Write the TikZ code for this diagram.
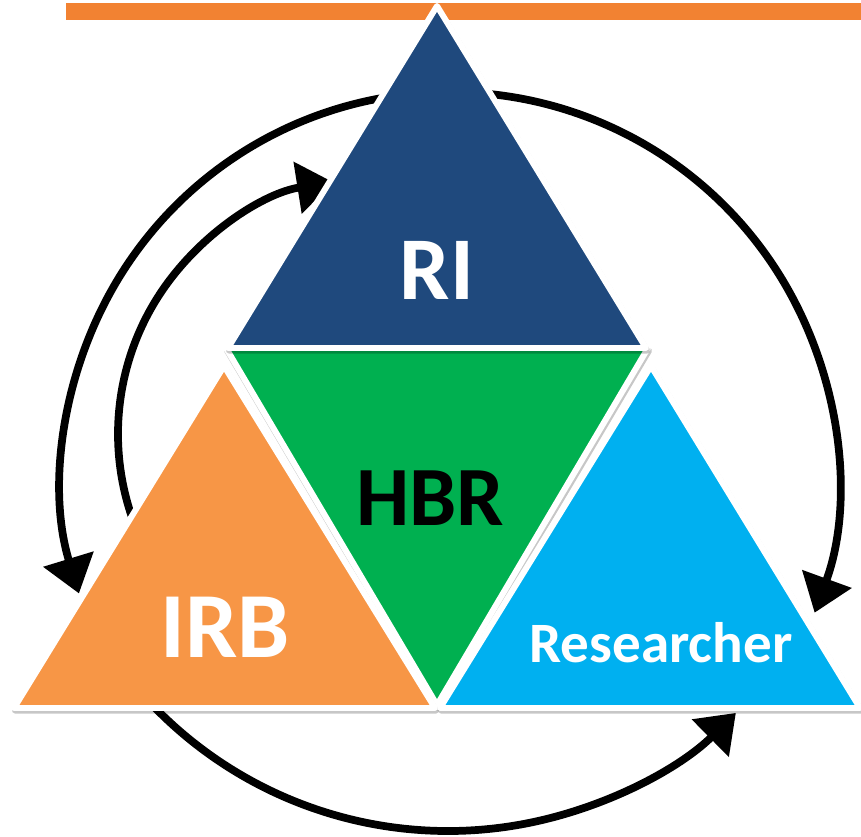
\documentclass[tikz,border=0pt]{standalone}
\usepackage{fontspec}
\setmainfont{Carlito}
\usetikzlibrary{calc,arrows.meta}
\definecolor{barorange}{HTML}{F28232}
\definecolor{riblue}{HTML}{1F497D}
\definecolor{hbrgreen}{HTML}{00B050}
\definecolor{irborange}{HTML}{F79646}
\definecolor{resblue}{HTML}{00B0F0}
\def\cyclearc(#1)(#2:#3:#4){\draw[flow] ($(#1)+(#2:#4)$) arc (#2:#3:#4);}

\begin{document}
\begin{tikzpicture}[x=0.02cm,y=0.02cm,
		tri/.style={draw=white,line width=3.4pt,line join=round,
			preaction={draw=black,opacity=0.22,line width=3.4pt,line join=round,
				transform canvas={xshift=0.6pt,yshift=-1.5pt}}},
		flow/.style={line width=4.4pt,-{Triangle[length=0.72cm,width=1.02cm]}},
		lbl/.style={text=white,font=\bfseries\fontsize{#1}{#1}\selectfont}]
			%%%%% START %%%%%
			\useasboundingbox (0,0) rectangle (861,836);
			
			\fill[barorange] (66,816) rectangle (861,833);
			
			\coordinate (outer) at (450,356);
			\coordinate (inner) at (373,402);
			\coordinate (lower) at (448,415);
			
			\cyclearc(outer)(90:197:388)
			\cyclearc(outer)(90:-20:388)
			\cyclearc(inner)(205:99:255)
			\cyclearc(lower)(222:314.6:410)
			
			\draw[tri,fill=hbrgreen] (226,488) -- (648,488) -- (437,131) -- cycle;
			\draw[tri,fill=riblue] (228,488) -- (646,488) -- (437,830) -- cycle;
			\draw[tri,fill=irborange] (14,128) -- (435,128) -- (224,470) -- cycle;
			\draw[tri,fill=resblue] (440,128) -- (860,128) -- (651,470) -- cycle;
			
			\node[lbl=51] (ri) at (437,566) {RI};
			\node[lbl=48,text=black] (hbr) at (430,338) {HBR};
			\node[lbl=53] (irb) at (225,209) {IRB};
			\node[lbl=32.5] (res) at (661,193) {Researcher};
			
			%%%%% END %%%%%
\end{tikzpicture}
\end{document}
